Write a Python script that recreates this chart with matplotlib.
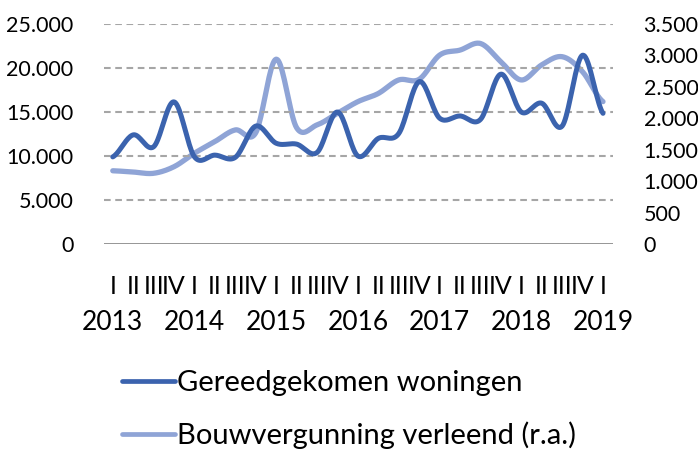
import numpy as np
import matplotlib
matplotlib.use("Agg")
import matplotlib.pyplot as plt
from matplotlib.ticker import FuncFormatter
import matplotlib.transforms as mtransforms

plt.rcParams['font.family'] = ['Lato', 'DejaVu Sans']

quarters = ["I", "II", "III", "IV"] * 6 + ["I"]
years = ["2013", "2014", "2015", "2016", "2017", "2018", "2019"]

gereed = [9900, 12400, 11050, 16150, 9900, 10100, 9850, 13400, 11450, 11350,
          10400, 15000, 10000, 12000, 12550, 18450, 14300, 14550, 14150, 19300,
          15000, 16000, 13400, 21450, 14850]
vergunning = [1165, 1145, 1125, 1230, 1445, 1630, 1815, 1770, 2940, 1850,
              1895, 2080, 2265, 2395, 2610, 2620, 3005, 3085, 3190, 2900,
              2610, 2850, 2980, 2740, 2265]

DARK = "#3B63AE"
LIGHT = "#8FA4D6"


def smooth(y, n=20):
    # Catmull-Rom spline through the points (like Excel's smoothed line)
    y = np.asarray(y, dtype=float)
    x = np.arange(len(y), dtype=float)
    xs, ys = [], []
    for i in range(len(y) - 1):
        p0 = y[i - 1] if i > 0 else y[i]
        p1, p2 = y[i], y[i + 1]
        p3 = y[i + 2] if i + 2 < len(y) else y[i + 1]
        t = np.linspace(0, 1, n, endpoint=False)
        seg = 0.5 * ((2 * p1) + (-p0 + p2) * t + (2 * p0 - 5 * p1 + 4 * p2 - p3) * t ** 2
                     + (-p0 + 3 * p1 - 3 * p2 + p3) * t ** 3)
        xs.append(x[i] + t)
        ys.append(seg)
    xs.append([x[-1]])
    ys.append([y[-1]])
    return np.concatenate(xs), np.concatenate(ys)


def nl(v, pos=None):
    return f"{int(round(v)):,}".replace(",", ".")


fig = plt.figure(figsize=(6.98, 4.53), dpi=100)
ax = fig.add_axes([104 / 698, 1 - 244 / 453, 509 / 698, 220 / 453])
ax2 = ax.twinx()

xg, yg = smooth(gereed)
xv, yv = smooth(vergunning)
l1, = ax.plot(xg, yg, color=DARK, lw=3.6, solid_capstyle='round', zorder=3,
              label="Gereedgekomen woningen")
l2, = ax2.plot(xv, yv, color=LIGHT, lw=3.8, solid_capstyle='round', zorder=2,
               label="Bouwvergunning verleend (r.a.)")

ax.set_xlim(-0.43, 24.49)
ax.set_ylim(0, 25000)
ax2.set_ylim(0, 3500)
ax.set_yticks(np.arange(0, 25001, 5000))
ax2.set_yticks(np.arange(0, 3501, 500))
ax.yaxis.set_major_formatter(FuncFormatter(nl))
ax2.yaxis.set_major_formatter(FuncFormatter(nl))

for v in np.arange(5000, 25001, 5000):
    ax.axhline(v, color="#A6A6A6", lw=1.5, ls=(0, (3.2, 2.2)), zorder=1)
ax.axhline(0, color="#8C8C8C", lw=2.0, zorder=1)

for a in (ax, ax2):
    for s in a.spines.values():
        s.set_visible(False)
    a.tick_params(length=0)
ax.set_zorder(ax2.get_zorder() + 1)
ax.patch.set_visible(False)

ax.tick_params(axis='y', labelsize=15.5, pad=22)
ax2.tick_params(axis='y', labelsize=15.5, pad=22)

ax.set_xticks(np.arange(len(quarters)))
ax.set_xticklabels(quarters, fontsize=18)
ax.tick_params(axis='x', pad=22)

trans = mtransforms.blended_transform_factory(ax.transData, fig.transFigure)
for k, yr in enumerate(years):
    ax.text(4 * k, 1 - 322 / 453, yr, transform=trans, ha='center', va='center',
            fontsize=19)

fig.legend(handles=[l1, l2], loc='upper left', bbox_to_anchor=(122 / 698, 1 - 370 / 453),
           frameon=False, fontsize=21, handlelength=1.8, handletextpad=0.1,
           labelspacing=0.88, borderpad=0, borderaxespad=0)
for h in fig.legends[0].legend_handles:
    h.set_linewidth(3.4)

fig.savefig("out.png", dpi=100)
